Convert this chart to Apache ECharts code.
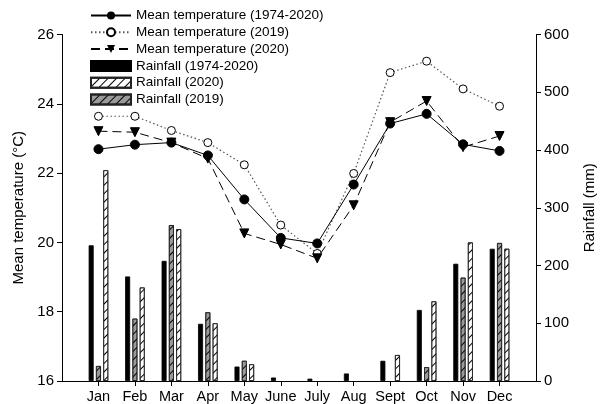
<!DOCTYPE html>
<html>
<head>
<meta charset="utf-8">
<script src="https://cdn.jsdelivr.net/npm/echarts@6/dist/echarts.min.js"></script>
<style>html,body{margin:0;padding:0;background:#fff}#c{width:605px;height:404px}</style>
</head>
<body>
<div id="c"></div>
<script>
var months = ['Jan','Feb','Mar','Apr','May','June','July','Aug','Sept','Oct','Nov','Dec'];
var tempMean = [22.69, 22.82, 22.88, 22.51, 21.24, 20.13, 19.97, 21.67, 23.43, 23.71, 22.83, 22.64];
var temp2019 = [23.64, 23.64, 23.23, 22.88, 22.24, 20.50, 19.68, 21.99, 24.90, 25.23, 24.43, 23.93];
var temp2020 = [23.21, 23.18, 22.88, 22.42, 20.26, 19.94, 19.54, 21.07, 23.47, 24.08, 22.75, 23.07];
var rainMean = [235, 181, 208, 99, 25, 6, 4, 13, 35, 123, 203, 229];
var rain2019 = [26, 108, 270, 119, 35, null, null, null, null, 24, 179, 239];
var rain2020 = [365, 162, 263, 100, 29, null, null, null, 45, 138, 240, 229];
var tempTicks = [16, 18, 20, 22, 24, 26];
var rainTicks = [0, 100, 200, 300, 400, 500, 600];

function pts(arr) { return arr.map(function (v, i) { return [i + 1, v]; }); }
var FONT = 'Liberation Sans, Arial, sans-serif';
var hatch = function () {
  return { symbol: 'rect', symbolSize: 1, color: '#000', dashArrayX: [1, 0], dashArrayY: [1, 5], rotation: -Math.PI / 4 };
};
var ticksIdx = months.map(function (m, i) { return i + 1; });

var chart = echarts.init(document.getElementById('c'));
chart.setOption({
  animation: false,
  backgroundColor: '#fff',
  textStyle: { fontFamily: FONT, color: '#000' },
  grid: { left: 62, right: 61, top: 34.5, bottom: 23, containLabel: false },
  legend: {
    orient: 'vertical', left: 90, top: 8.5, padding: 0,
    itemWidth: 40, itemHeight: 10, itemGap: 2.8,
    textStyle: { fontSize: 13.5, color: '#000', fontFamily: FONT },
    data: ['Mean temperature (1974-2020)', 'Mean temperature (2019)', 'Mean temperature (2020)',
           { name: 'Rainfall (1974-2020)', icon: 'rect' },
           { name: 'Rainfall (2020)', icon: 'rect' },
           { name: 'Rainfall (2019)', icon: 'rect' }]
  },
  xAxis: {
    type: 'value', min: 0, max: 13, interval: 1,
    axisLine: { show: true, lineStyle: { color: '#000', width: 1 } },
    axisTick: { show: true, length: 5, customValues: ticksIdx, lineStyle: { color: '#000' } },
    axisLabel: { customValues: ticksIdx, fontSize: 14.5, color: '#000', fontFamily: FONT, margin: 8,
      formatter: function (v) { return months[v - 1] || ''; } },
    splitLine: { show: false }
  },
  yAxis: [
    {
      type: 'value', min: tempTicks[0], max: tempTicks[tempTicks.length - 1], interval: 2, position: 'left',
      name: 'Mean temperature (°C)', nameLocation: 'middle', nameGap: 30,
      nameTextStyle: { fontSize: 15, color: '#000', fontFamily: FONT },
      axisLine: { show: true, lineStyle: { color: '#000' } },
      axisTick: { show: true, length: 5, lineStyle: { color: '#000' } },
      axisLabel: { fontSize: 15, color: '#000', margin: 8, fontFamily: FONT },
      splitLine: { show: false }
    },
    {
      type: 'value', min: rainTicks[0], max: rainTicks[rainTicks.length - 1], interval: 100, position: 'right',
      name: 'Rainfall (mm)', nameLocation: 'middle', nameGap: 46,
      nameTextStyle: { fontSize: 15, color: '#000', fontFamily: FONT },
      axisLine: { show: true, lineStyle: { color: '#000' } },
      axisTick: { show: true, length: 5, lineStyle: { color: '#000' } },
      axisLabel: { fontSize: 15, color: '#000', margin: 8, fontFamily: FONT },
      splitLine: { show: false }
    }
  ],
  series: [
    {
      name: 'Rainfall (1974-2020)', type: 'bar', yAxisIndex: 1, barWidth: 5, barGap: '46%',
      itemStyle: { color: '#000', borderColor: '#000', borderWidth: 0.8 },
      data: pts(rainMean), z: 2
    },
    {
      name: 'Rainfall (2019)', type: 'bar', yAxisIndex: 1, barWidth: 5, barGap: '46%',
      itemStyle: { color: '#9a9a9a', borderColor: '#222', borderWidth: 0.8, decal: hatch() },
      data: pts(rain2019), z: 2
    },
    {
      name: 'Rainfall (2020)', type: 'bar', yAxisIndex: 1, barWidth: 5, barGap: '46%',
      itemStyle: { color: '#fff', borderColor: '#222', borderWidth: 0.8, decal: hatch() },
      data: pts(rain2020), z: 2
    },
    {
      name: 'Mean temperature (1974-2020)', type: 'line', yAxisIndex: 0,
      symbol: 'circle', symbolSize: 9,
      itemStyle: { color: '#000', borderColor: '#000' },
      lineStyle: { color: '#000', width: 1 },
      data: pts(tempMean), z: 5
    },
    {
      name: 'Mean temperature (2019)', type: 'line', yAxisIndex: 0,
      symbol: 'circle', symbolSize: 8,
      itemStyle: { color: '#fff', borderColor: '#000', borderWidth: 1 },
      lineStyle: { color: '#555', width: 1.2, type: [1.5, 2.5] },
      data: pts(temp2019), z: 4
    },
    {
      name: 'Mean temperature (2020)', type: 'line', yAxisIndex: 0,
      symbol: 'triangle', symbolRotate: 180, symbolSize: 9,
      itemStyle: { color: '#000', borderColor: '#000' },
      lineStyle: { color: '#000', width: 1, type: [9, 5] },
      data: pts(temp2020), z: 4
    }
  ]
});
</script>
</body>
</html>
